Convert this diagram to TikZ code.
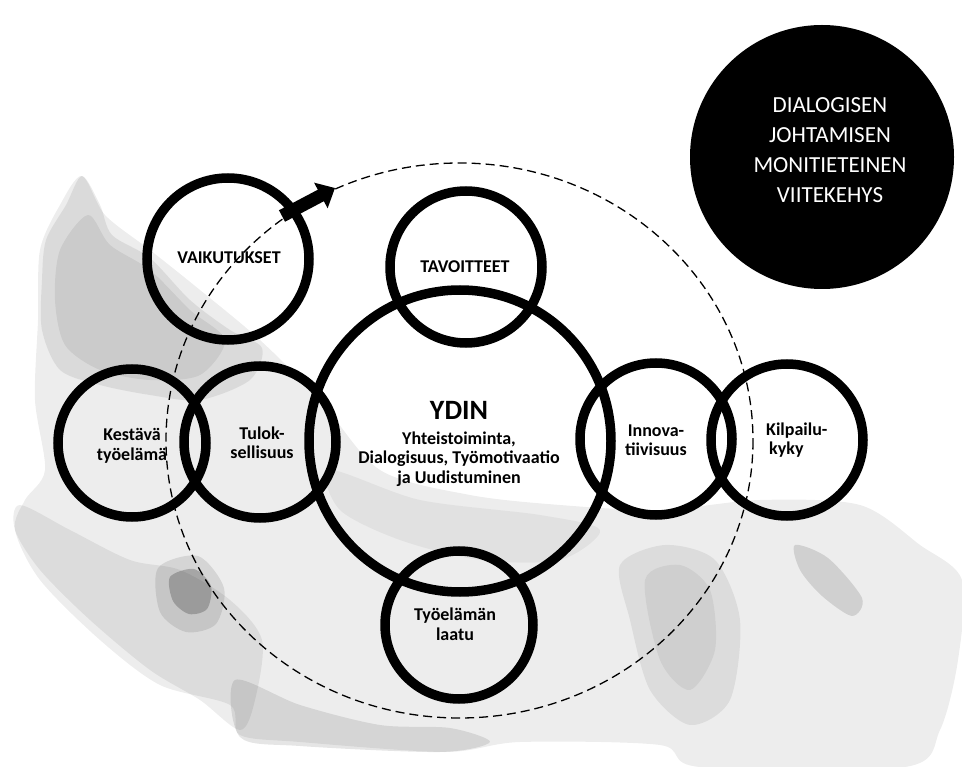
\documentclass[tikz,border=0pt]{standalone}
\usepackage{fontspec}
\setmainfont{Carlito}
\usetikzlibrary{arrows.meta}
\begin{document}
\begin{tikzpicture}[x=1pt,y=-1pt,
  ring/.style={draw=black,line width=9.5pt,circle,inner sep=0pt},
  lbl/.style={align=center,inner sep=0pt,font=\fontsize{18}{19.5}\selectfont\bfseries},
  wash/.style={draw=none,fill=black,fill opacity=#1},
]
\useasboundingbox (0,0) rectangle (962,767);
% watercolour wash
\fill[wash=0.07] plot[smooth cycle] coordinates {(82,176) (105,215) (150,250) (200,290) (260,340) (320,400) (380,470) (470,495) (560,505) (660,510) (760,500) (860,505) (920,545) (962,580) (958,660) (940,730) (905,767) (700,767) (660,745) (520,742) (445,752) (300,742) (240,735) (230,705) (160,685) (100,640) (40,580) (15,530) (25,500) (45,470) (35,400) (38,320) (40,250) (60,205)};
\fill[wash=0.08] plot[smooth cycle] coordinates {(82,176) (100,205) (112,235) (150,258) (190,300) (230,330) (262,348) (250,380) (200,400) (150,395) (100,385) (60,370) (42,330) (42,280) (46,240) (66,205)};
\fill[wash=0.07] plot[smooth cycle] coordinates {(88,215) (110,245) (150,270) (190,310) (225,340) (200,375) (150,380) (100,370) (65,345) (55,300) (60,250)};
\fill[wash=0.07] plot[smooth cycle] coordinates {(20,505) (70,530) (130,560) (180,570) (230,600) (262,640) (255,700) (240,730) (200,700) (150,670) (90,620) (40,570) (15,530)};
\fill[wash=0.1] plot[smooth cycle] coordinates {(235,680) (300,705) (380,725) (450,728) (490,742) (440,752) (300,746) (240,737)};
\fill[wash=0.1] plot[smooth cycle] coordinates {(158,568) (198,556) (224,588) (216,624) (186,632) (160,612)};
\fill[wash=0.22] plot[smooth cycle] coordinates {(170,577) (194,569) (211,586) (207,609) (189,614) (173,601)};
\fill[wash=0.07] plot[smooth cycle] coordinates {(620,565) (665,545) (715,560) (740,620) (730,700) (690,725) (650,690) (630,620)};
\fill[wash=0.06] plot[smooth cycle] coordinates {(645,580) (680,565) (710,590) (715,650) (690,690) (660,660)};
\fill[wash=0.12] plot[smooth cycle] coordinates {(795,545) (828,558) (862,598) (852,616) (822,596) (800,570)};
\fill[wash=0.05] plot[smooth cycle] coordinates {(330,470) (420,500) (540,515) (600,530) (560,560) (480,560) (400,540) (340,510)};
% dashed frame
\draw[line width=1.3pt,dash pattern=on 9pt off 5pt] (459.5,440.5) ellipse [x radius=293.5, y radius=277.5];
% rings
\node[ring,minimum size=162pt] (vaik) at (228,259) {};
\node[ring,minimum size=152pt] (tav) at (466,267) {};
\node[ring,minimum size=302pt] (ydin) at (460,441) {};
\node[ring,minimum size=148pt] (kest) at (132,443) {};
\node[ring,minimum size=152pt] (tul) at (260,442) {};
\node[ring,minimum size=152pt] (inn) at (656,439) {};
\node[ring,minimum size=152pt] (kil) at (787,440) {};
\node[ring,minimum size=148pt] (tyo) at (459,625) {};
% arrow
\coordinate (arrS) at (282,216);
\coordinate (arrE) at (335,188);
\draw[line width=13pt,-{Triangle[length=16pt,width=28pt]}] (arrS) -- (arrE);
% labels
\node[lbl] (vaikT) at (229,258) {VAIKUTUKSET};
\node[lbl] (tavT) at (465,267) {TAVOITTEET};
\node[lbl] (kestT) at (132,446) {Kestävä\\työelämä};
\node[lbl] (tulT) at (262,443) {Tulok-\\sellisuus};
\node[lbl] (innT) at (656,440) {Innova-\\tiivisuus};
\node[lbl,align=left,anchor=west] (kilT) at (766,440) {Kilpailu-\\\,kyky};
\node[lbl] (tyoT) at (455,624) {Työelämän\\laatu};
\node[inner sep=0pt,font=\fontsize{28}{30}\selectfont\bfseries] (ydinT) at (459,410) {YDIN};
\node[lbl] (ydinS) at (459,459) {Yhteistoiminta,\\Dialogisuus, Työmotivaatio\\ja Uudistuminen};
% framework disc
\node[circle,fill=black,minimum size=264pt,inner sep=0pt] (frame) at (822,157) {};
\node[align=center,inner sep=0pt,text=white,font=\fontsize{23}{30}\selectfont] (frameT) at (830,150) {DIALOGISEN\\JOHTAMISEN\\MONITIETEINEN\\VIITEKEHYS};
\end{tikzpicture}
\end{document}
